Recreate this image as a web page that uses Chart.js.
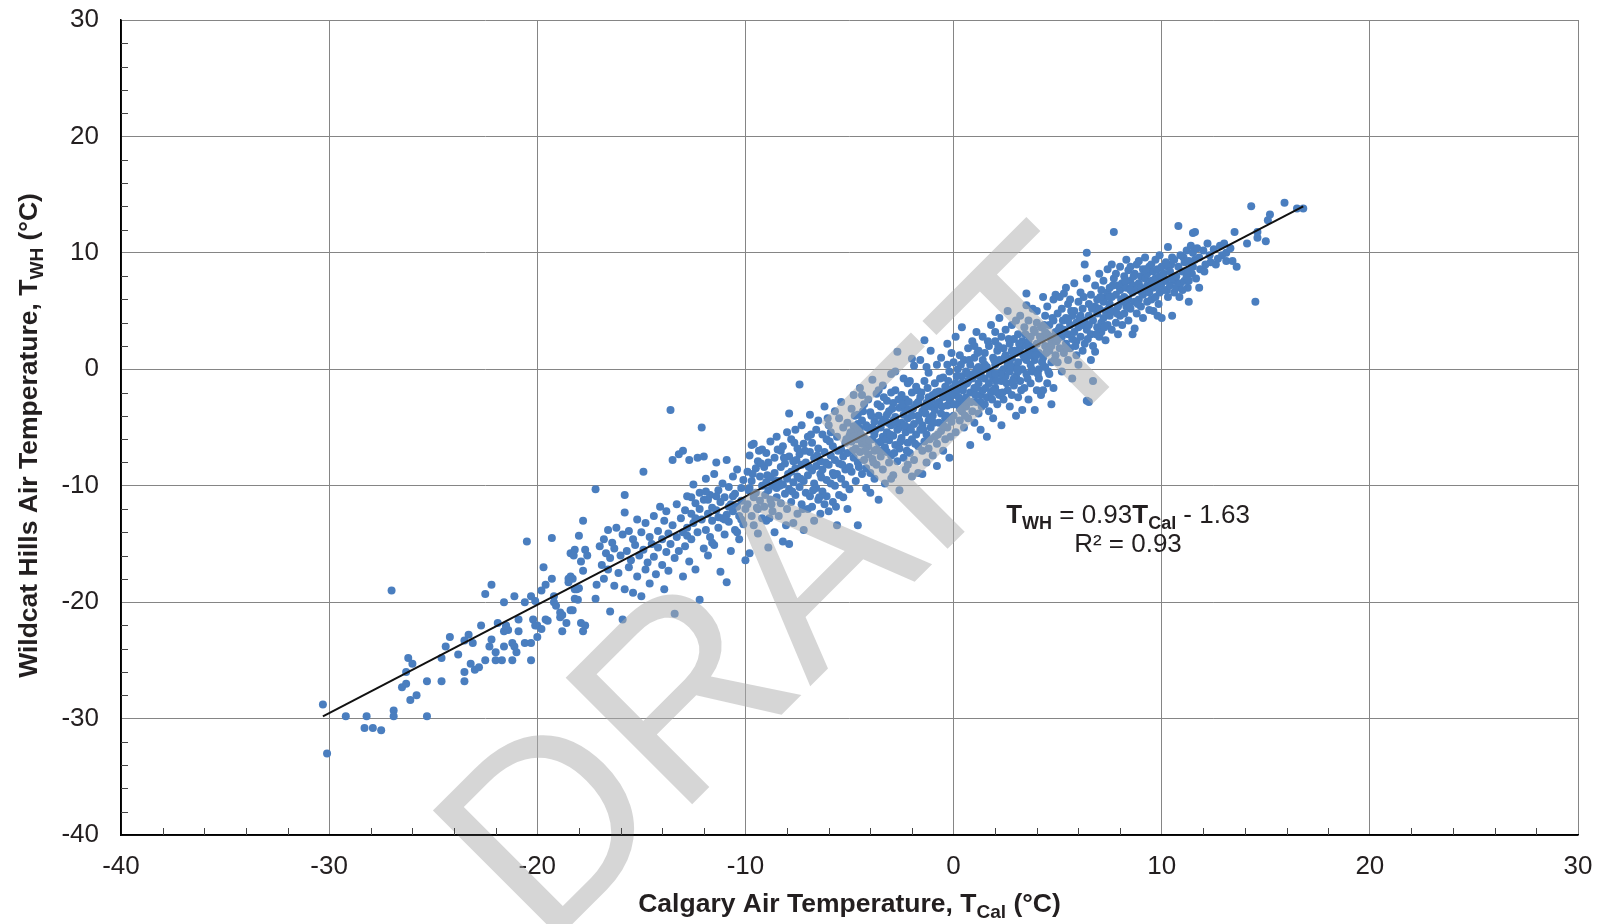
<!DOCTYPE html>
<html><head><meta charset="utf-8">
<script src="https://cdn.jsdelivr.net/npm/chart.js@4.4.1/dist/chart.umd.min.js"></script>
<style>html,body{margin:0;padding:0;background:#fff;overflow:hidden}</style>
</head><body>
<canvas id="c" width="1604" height="924"></canvas>
<script>
// ---- data ----
const xTickValues = [-40,-30,-20,-10,0,10,20,30];
const yTickValues = [-40,-30,-20,-10,0,10,20,30];
const xTitle = ['Calgary Air Temperature, T','Cal',' (°C)'];
const yTitle = ['Wildcat Hills Air Temperature, T','WH',' (°C)'];
const fitSlope = 0.93;
const fitIntercept = -1.63;
const fitRange = [-30.3, 16.8];
const rSquared = '0.93';
// [Calgary T, Wildcat Hills T]
const tempPairs = [
[-30.3,-28.8],[-30.1,-33.0],[-29.2,-29.8],[-28.2,-29.8],[-28.3,-30.8],[-27.9,-30.8],[-27.5,-31.0],[-27.0,-19.0],[-26.9,-29.3],[-26.9,-29.8],[-26.5,-27.3],[-26.3,-27.0],[-26.3,-26.0],[-26.2,-24.8],[-26.0,-25.3],[-26.1,-28.4],[-25.8,-28.0],[-25.3,-29.8],[-25.3,-26.8],
[-24.6,-26.8],[-24.6,-24.8],[-24.4,-23.8],[-24.2,-23.0],[-23.8,-24.5],[-23.5,-26.0],[-23.5,-26.8],[-23.5,-23.3],[-23.3,-22.8],[-23.1,-23.5],[-23.2,-25.3],[-23.0,-25.8],[-22.8,-25.6],[-22.7,-22.0],[-22.5,-25.0],[-22.5,-19.3],[-22.2,-18.5],[-22.3,-23.8],[-22.2,-23.2],[-22.0,-24.3],[-21.9,-21.8],[-22.0,-25.0],
[-21.7,-25.0],[-21.6,-23.8],[-21.6,-22.5],[-21.5,-22.2],[-21.4,-22.4],[-21.6,-20.0],[-21.5,-22.0],[-21.1,-19.5],[-21.2,-23.5],[-21.1,-23.8],[-21.0,-24.3],[-21.2,-25.0],[-20.9,-21.5],[-20.9,-22.5],[-20.6,-23.5],[-20.3,-23.5],[-20.3,-25.0],[-20.6,-20.0],[-20.5,-14.8],[-20.3,-19.5],[-20.1,-19.9],[-20.2,-21.5],[-20.1,-22.0],[-20.0,-22.0],[-20.0,-23.0],[-19.8,-22.3],[-19.8,-19.0],[-19.7,-17.0],[-19.6,-18.5],[-19.3,-18.0],[-19.3,-14.5],[-19.2,-19.5],[-19.2,-20.0],[-19.1,-20.3],[-19.6,-21.5],[-19.5,-21.6],[-18.9,-20.9],[-18.9,-21.3],[-18.8,-21.1],[-18.8,-22.5],[-18.6,-21.8],[-18.5,-18.0],[-18.4,-17.8],[-18.3,-18.0],[-18.5,-18.3],[-18.4,-20.7],[-18.3,-20.7],[-18.4,-15.8],[-18.2,-15.5],[-18.25,-16.0],[-18.0,-14.3],[-17.8,-13.0],[-18.2,-18.9],[-18.1,-18.9],[-18.0,-18.8],[-18.2,-19.7],[-18.05,-19.8],[-17.9,-21.8],[-17.8,-22.5],[-17.7,-22.0],[-17.9,-16.5],[-17.8,-17.3],[-17.6,-16.0],[-17.7,-15.5],[-17.2,-10.3],[-17.2,-19.7],[-17.15,-18.5],
[-17.0,-15.2],[-16.9,-16.8],[-16.8,-14.6],[-16.8,-18.0],[-16.7,-15.8],[-16.6,-13.8],[-16.6,-17.2],[-16.5,-20.8],[-16.5,-16.2],[-16.4,-14.9],[-16.3,-18.6],[-16.3,-15.4],[-16.2,-13.6],[-16.1,-17.5],[-16.0,-16.0],[-15.9,-21.5],[-15.9,-14.2],[-15.8,-10.8],[-15.8,-12.3],[-15.8,-18.9],[-15.7,-15.6],[-15.6,-13.9],[-15.6,-17.0],[-15.5,-16.4],[-15.4,-14.6],[-15.4,-19.2],[-15.3,-15.1],[-15.2,-12.9],[-15.2,-17.8],[-15.1,-16.0],[-15.0,-19.5],[-15.0,-14.0],[-14.9,-8.8],[-14.9,-15.5],[-14.8,-17.2],[-14.8,-13.2],[-14.7,-16.6],[-14.6,-14.4],[-14.6,-18.4],[-14.5,-15.0],[-14.4,-12.6],[-14.4,-16.1],[-14.3,-17.6],[-14.2,-13.9],[-14.2,-15.3],[-14.1,-11.8],[-14.0,-16.8],[-14.0,-14.6],[-13.9,-18.9],[-13.9,-13.0],[-13.8,-15.7],[-13.8,-12.2],[-13.7,-14.1],[-13.7,-17.3],[-13.6,-3.5],[-13.6,-15.0],[-13.5,-7.8],[-13.5,-13.4],[-13.4,-21.0],[-13.4,-16.2],[-13.3,-11.6],[-13.3,-14.4],[-13.2,-7.3],[-13.2,-15.6],[-13.1,-12.8],[-13.0,-7.0],[-13.0,-17.8],[-13.0,-14.0],
[-12.9,-12.1],[-12.9,-15.2],[-12.8,-10.9],[-12.8,-13.6],[-12.7,-7.8],[-12.7,-16.5],[-12.6,-12.4],[-12.6,-14.6],[-12.5,-9.9],[-12.5,-13.2],[-12.4,-11.5],[-12.4,-17.2],[-12.3,-7.6],[-12.3,-14.0],[-12.2,-19.8],[-12.2,-10.6],[-12.1,-5.0],[-12.1,-12.9],[-12.0,-7.5],[-12.0,-15.4],[-12.0,-11.2],[-11.9,-13.8],[-11.9,-9.4],[-11.8,-12.4],[-11.8,-16.0],[-11.7,-10.8],[-11.7,-14.4],[-11.6,-11.9],[-11.6,-13.0],[-11.5,-9.0],[-11.5,-15.1],[-11.4,-8.0],[-11.4,-12.1],[-11.3,-13.6],[-11.3,-10.4],[-11.2,-11.4],[-11.2,-17.4],[-11.1,-12.8],[-11.1,-9.8],[-11.0,-14.2],[-11.0,-11.0],[-10.9,-7.8],[-10.9,-18.3],[-10.9,-12.5],[-10.8,-10.1],[-10.8,-13.1],[-10.7,-11.6],[-10.7,-15.6],[-10.6,-9.2],[-10.6,-12.2],[-10.5,-13.8],[-10.5,-10.7],[-10.4,-11.8],[-10.4,-8.6],[-10.3,-14.6],[-10.3,-12.6],[-10.2,-10.2],[-10.2,-11.3],[-10.1,-13.3],[-10.1,-9.5],[-10.0,-12.0],[-10.0,-16.4],[-12.6,-11.0],[-12.2,-12.0],[-11.9,-10.5],[-11.6,-14.9],[-11.3,-12.7],[-11.0,-12.9],[-10.8,-11.8],[-10.6,-10.9],[-10.4,-14.0],[-10.2,-12.9],[-12.8,-14.3],[-12.4,-12.8],[-11.8,-11.2],[-11.4,-10.9],
[-9.9,-8.8],[-9.9,-11.6],[-9.8,-15.8],[-9.8,-10.2],[-9.8,-7.4],[-9.7,-6.5],[-9.7,-12.6],[-9.7,-9.6],[-9.6,-6.4],[-9.6,-11.0],[-9.6,-13.4],[-9.5,-8.5],[-9.5,-10.6],[-9.4,-12.0],[-9.4,-7.9],[-9.4,-14.1],[-9.3,-9.2],[-9.3,-11.3],[-9.2,-6.9],[-9.2,-10.0],[-9.2,-12.8],[-9.1,-8.4],[-9.1,-11.8],[-9.0,-9.7],[-9.0,-7.2],[-9.0,-13.0],[-8.9,-15.3],[-8.9,-10.4],[-8.9,-8.0],[-8.8,-11.2],[-8.8,-6.2],[-8.8,-9.3],[-8.7,-12.2],[-8.7,-10.0],[-8.6,-7.6],[-8.6,-14.0],[-8.6,-8.9],[-8.5,-11.0],[-8.5,-5.8],[-8.5,-10.2],[-8.4,-9.6],[-8.4,-12.6],[-8.3,-7.0],[-8.3,-8.4],[-8.3,-11.5],[-8.2,-14.8],[-8.2,-9.9],[-8.2,-6.6],[-8.1,-10.7],[-8.1,-8.1],[-8.0,-12.0],[-8.0,-9.4],[-8.0,-5.4],[-7.9,-3.8],[-7.9,-15.0],[-7.9,-10.3],[-7.9,-7.5],[-7.8,-8.8],[-7.8,-11.4],[-7.8,-6.0],[-7.7,-9.7],[-7.7,-13.2],[-7.7,-7.9],[-7.6,-10.8],[-7.6,-5.2],[-7.6,-8.5],[-7.5,-12.4],[-7.5,-9.2],[-7.5,-6.8],[-7.4,-1.3],[-7.4,-10.1],[-7.4,-7.3],[-7.3,-11.6],[-7.3,-8.2],[-7.3,-4.8],[-7.2,-9.6],[-7.2,-13.8],[-7.2,-6.4],[-7.1,-10.6],[-7.1,-8.0],[-7.0,-12.0],[-7.0,-5.8],[-7.0,-9.1],[-6.9,-7.1],[-6.9,-10.9],[-6.9,-3.9],[-6.8,-8.7],[-6.8,-11.8],[-6.8,-6.3],[-6.7,-9.8],[-6.7,-7.6],[-6.7,-13.0],[-6.6,-5.2],[-6.6,-10.2],[-6.6,-8.3],[-6.5,-11.2],[-6.5,-6.8],[-6.5,-4.4],[-6.4,-9.0],[-6.4,-12.4],[-6.4,-7.9],[-6.3,-10.5],[-6.3,-5.6],[-6.3,-8.6],[-6.2,-11.6],[-6.2,-7.1],[-6.2,-3.2],[-6.1,-9.5],[-6.1,-6.0],[-6.1,-10.9],[-6.0,-8.2],[-6.0,-4.8],[-6.0,-12.2],[-5.9,-7.4],[-5.9,-9.8],[-5.9,-5.4],[-5.8,-8.9],[-5.8,-11.4],[-5.8,-6.6],[-5.7,-3.6],[-5.7,-10.0],[-5.7,-7.8],[-5.6,-9.0],[-5.6,-5.8],[-5.6,-13.4],[-5.5,-8.1],[-5.5,-4.2],[-5.5,-10.8],[-5.4,-6.9],[-5.4,-9.4],[-5.4,-2.8],[-5.3,-7.5],[-5.3,-11.0],[-5.3,-5.0],[-5.2,-8.6],[-5.2,-6.3],[-5.2,-9.9],[-5.1,-4.6],[-5.1,-7.2],[-5.1,-12.0],[-5.0,-8.4],[-5.0,-5.7],[-5.0,-10.3],
[-9.85,-10.4],[-9.65,-9.0],[-9.45,-11.9],[-9.25,-8.1],[-9.05,-10.8],[-8.95,-9.1],[-8.75,-11.6],[-8.55,-9.6],[-8.35,-10.0],[-8.15,-7.6],[-7.95,-9.0],[-7.75,-10.5],[-7.55,-7.8],[-7.35,-9.4],[-7.15,-7.0],[-6.95,-8.4],[-6.75,-10.4],[-6.55,-7.4],[-6.35,-9.3],[-6.15,-8.0],[-5.95,-6.2],[-5.75,-9.1],[-5.55,-7.0],[-5.35,-8.2],[-5.15,-6.0],[-8.85,-12.8],[-8.05,-13.4],[-7.25,-12.0],[-6.45,-11.0],[-5.65,-11.8],[-9.35,-7.0],[-8.45,-6.9],[-7.65,-6.3],[-6.85,-5.6],[-6.05,-4.2],
[-4.9,-6.2],[-4.9,-3.4],[-4.9,-8.8],[-4.8,-4.9],[-4.8,-7.6],[-4.8,-2.2],[-4.7,-5.5],[-4.7,-9.6],[-4.7,-6.8],[-4.6,-3.9],[-4.6,-8.0],[-4.6,-13.4],[-4.5,-5.1],[-4.5,-7.1],[-4.5,-1.6],[-4.4,-6.4],[-4.4,-9.0],[-4.4,-4.4],[-4.3,-7.8],[-4.3,-3.0],[-4.3,-5.9],[-4.2,-8.5],[-4.2,-4.8],[-4.2,-10.2],[-4.1,-6.6],[-4.1,-2.6],[-4.1,-7.3],[-4.0,-5.2],[-4.0,-8.9],[-4.0,-3.7],[-3.9,-6.0],[-3.9,-0.9],[-3.9,-7.7],[-3.8,-4.5],[-3.8,-9.4],[-3.8,-5.6],[-3.7,-6.9],[-3.7,-2.1],[-3.7,-8.2],[-3.6,-4.0],[-3.6,-6.3],[-3.6,-11.2],[-3.5,-5.0],[-3.5,-7.5],[-3.5,-3.2],[-3.4,-8.6],[-3.4,-5.8],[-3.4,-1.4],[-3.3,-6.7],[-3.3,-4.3],[-3.3,-9.8],[-3.2,-2.7],[-3.2,-7.1],[-3.2,-5.4],[-3.1,-3.6],[-3.1,-8.0],[-3.1,-6.1],[-3.0,-0.4],[-3.0,-4.8],[-3.0,-7.4],[-2.9,-5.7],[-2.9,-2.9],[-2.9,-9.1],[-2.8,-6.5],[-2.8,-4.1],[-2.8,-1.8],[-2.7,1.5],[-2.7,-7.9],[-2.7,-5.2],[-2.6,-3.3],[-2.6,-6.8],[-2.6,-10.4],[-2.5,-4.6],[-2.5,-2.2],[-2.5,-5.9],[-2.4,-7.6],[-2.4,-3.9],[-2.4,-0.8],[-2.3,-5.4],[-2.3,-8.6],[-2.3,-2.6],[-2.2,-6.3],[-2.2,-4.2],[-2.2,-1.2],[-2.1,-7.2],[-2.1,-3.5],[-2.1,-5.0],[-2.0,-9.2],[-2.0,-2.0],[-2.0,-6.0],[-1.9,0.3],[-1.9,-4.7],[-1.9,-7.8],[-1.8,-3.0],[-1.8,-5.6],[-1.8,-1.5],[-1.7,-6.6],[-1.7,-4.0],[-1.7,-8.9],[-1.6,-2.4],[-1.6,-5.2],[-1.6,0.8],[-1.5,-7.0],[-1.5,-3.6],[-1.5,-4.8],[-1.4,2.5],[-1.4,-6.2],[-1.4,-1.0],[-1.3,-5.6],[-1.3,-2.9],[-1.3,-8.0],[-1.2,-4.4],[-1.2,-0.3],[-1.2,-6.8],[-1.1,-3.2],[-1.1,-5.0],[-1.1,1.6],[-1.0,-7.4],[-1.0,-2.2],[-1.0,-4.0],[-0.9,-5.8],[-0.9,-1.2],[-0.9,-3.5],[-0.8,-8.3],[-0.8,-6.4],[-0.8,0.4],[-0.7,-2.8],[-0.7,-4.6],[-0.7,-1.9],[-0.6,-5.3],[-0.6,-3.8],[-0.6,1.0],[-0.5,-7.0],[-0.5,-2.4],[-0.5,-0.7],[-0.4,-4.2],[-0.4,-6.0],[-0.4,-1.5],[-0.3,-3.1],[-0.3,2.2],[-0.3,-5.0],[-0.2,-2.0],[-0.2,-7.6],[-0.2,-0.2],[-0.1,-4.5],[-0.1,-3.0],[-0.1,1.4],[-4.6,-4.7],[-4.2,-6.2],[-3.8,-7.0],[-3.5,-6.2],[-3.2,-3.9],[-2.9,-4.4],[-2.6,-5.0],[-2.3,-3.4],[-2.0,-4.0],[-1.7,-2.8],[-1.4,-3.4],[-1.1,-4.2],[-0.8,-3.0],[-0.5,-4.8],[-0.2,-2.6],[-4.4,-2.2],[-3.6,-1.8],[-2.8,-0.2],[-2.0,0.9],[-1.3,0.2],[-4.0,-10.6],[-3.0,-9.4],[-2.2,-8.2],[-1.5,-9.0],
[-4.95,-5.4],[-4.85,-7.0],[-4.75,-4.0],[-4.65,-6.0],[-4.55,-8.4],[-4.45,-5.6],[-4.35,-3.6],[-4.25,-7.0],[-4.15,-5.0],[-4.05,-6.1],[-3.95,-4.0],[-3.85,-8.0],[-3.75,-5.2],[-3.65,-3.0],[-3.55,-7.0],[-3.45,-4.6],[-3.35,-2.4],[-3.25,-6.0],[-3.15,-4.6],[-3.05,-5.6],[-2.95,-3.4],[-2.85,-7.2],[-2.75,-4.6],[-2.65,-2.6],[-2.55,-6.2],[-2.45,-3.0],[-2.35,-4.8],[-2.25,-7.0],[-2.15,-2.8],[-2.05,-5.2],[-1.95,-3.4],[-1.85,-6.4],[-1.75,-1.8],[-1.65,-4.4],[-1.55,-2.0],[-1.45,-5.2],[-1.35,-3.8],[-1.25,-1.6],[-1.15,-6.0],[-1.05,-2.6],[-0.95,-4.6],[-0.85,-2.0],[-0.75,-5.6],[-0.65,-0.8],[-0.55,-3.2],[-0.45,-2.0],[-0.35,-4.0],[-0.25,-1.0],[-0.15,-5.8],[-0.05,-1.6],[-4.8,-5.8],[-3.9,-5.0],[-3.0,-2.0],[-2.1,-1.0],[-1.2,-2.4],[-0.3,0.4],
[0.0,-2.2],[0.0,0.6],[0.0,-4.0],[0.1,-1.2],[0.1,2.8],[0.1,-5.4],[0.2,-3.0],[0.2,0.0],[0.2,-1.8],[0.3,-4.4],[0.3,1.2],[0.3,-2.6],[0.4,-0.6],[0.4,-3.6],[0.4,3.6],[0.5,-1.4],[0.5,-5.0],[0.5,0.8],[0.6,-2.4],[0.6,-0.2],[0.6,-3.2],[0.7,1.8],[0.7,-4.2],[0.7,-1.0],[0.8,-6.5],[0.8,-2.0],[0.8,0.4],[0.9,-3.6],[0.9,2.4],[0.9,-0.8],[1.0,-1.6],[1.0,-4.6],[1.0,1.0],[1.1,-2.8],[1.1,0.0],[1.1,3.2],[1.2,-1.2],[1.2,-3.8],[1.2,1.6],[1.3,-0.4],[1.3,-2.2],[1.3,-5.2],[1.4,0.8],[1.4,-1.8],[1.4,2.8],[1.5,-3.0],[1.5,-0.8],[1.5,1.4],[1.6,-5.8],[1.6,-2.4],[1.6,0.2],[1.7,-1.2],[1.7,2.0],[1.7,-3.6],[1.8,-0.2],[1.8,3.8],[1.8,-2.0],[1.9,1.0],[1.9,-4.2],[1.9,-0.8],[2.0,2.4],[2.0,-1.6],[2.0,0.4],[2.1,-3.0],[2.1,1.6],[2.1,-0.4],[2.2,4.4],[2.2,-2.2],[2.2,0.8],[2.3,-1.0],[2.3,2.8],[2.3,-4.8],[2.4,0.0],[2.4,1.8],[2.4,-2.6],[2.5,-0.6],[2.5,3.4],[2.5,1.2],[2.6,-1.8],[2.6,0.4],[2.6,5.0],[2.7,-3.2],[2.7,2.2],[2.7,-0.2],[2.8,1.0],[2.8,-2.2],[2.8,3.8],[2.9,0.2],[2.9,-1.4],[2.9,2.6],[3.0,-4.0],[3.0,1.4],[3.0,-0.6],[3.1,3.0],[3.1,-2.4],[3.1,0.6],[3.2,4.6],[3.2,-1.0],[3.2,1.8],[3.3,-3.5],[3.3,0.0],[3.3,2.4],[3.4,-1.6],[3.4,3.6],[3.4,1.0],[3.5,5.5],[3.5,6.5],[3.5,-0.4],[3.5,2.0],[3.6,-2.6],[3.6,1.4],[3.6,4.2],[3.7,0.4],[3.7,-1.2],[3.7,2.8],[3.8,5.2],[3.8,-0.2],[3.8,1.8],[3.9,-3.5],[3.9,3.2],[3.9,0.8],[4.0,-1.8],[4.0,2.2],[4.0,4.0],[4.1,0.0],[4.1,1.4],[4.1,-0.8],[4.2,3.6],[4.2,2.6],[4.2,-2.2],[4.3,-1.8],[4.3,6.2],[4.3,1.0],[4.4,4.6],[4.4,0.2],[4.4,2.0],[4.5,-1.2],[4.5,3.0],[4.5,5.4],[4.6,1.6],[4.6,-0.4],[4.6,3.8],[4.7,-3.0],[4.7,2.4],[4.7,0.6],[4.8,6.0],[4.8,4.2],[4.8,-1.6],[4.9,1.2],[4.9,3.2],[4.9,6.4],[0.3,-3.4],[0.7,-0.4],[1.1,-1.6],[1.5,0.4],[1.9,-1.8],[2.3,-0.2],[2.7,0.6],[3.1,-0.2],[3.5,0.8],[3.9,1.6],[4.3,2.8],[4.7,2.0],[0.5,-2.8],[1.3,-2.8],[2.1,-2.0],[2.9,-0.8],[3.7,1.2],[4.5,1.6],[1.0,2.0],[2.0,3.2],[3.0,4.2],[4.0,5.0],
[0.05,-3.0],[0.15,-0.6],[0.25,-2.4],[0.35,0.4],[0.45,-1.8],[0.55,-4.0],[0.65,-1.2],[0.75,0.8],[0.85,-2.8],[0.95,-0.4],[1.05,-2.2],[1.15,1.4],[1.25,-0.6],[1.35,-3.2],[1.45,0.2],[1.55,-1.6],[1.65,2.4],[1.75,-0.4],[1.85,-2.6],[1.95,0.8],[2.05,-1.0],[2.15,2.0],[2.25,-0.4],[2.35,-2.0],[2.45,1.0],[2.55,-1.2],[2.65,2.6],[2.75,0.2],[2.85,-1.0],[2.95,1.6],[3.05,0.0],[3.15,2.2],[3.25,-1.8],[3.35,1.2],[3.45,3.0],[3.55,-0.8],[3.65,2.0],[3.75,0.0],[3.85,3.4],[3.95,1.2],[4.05,-0.4],[4.15,2.8],[4.25,0.6],[4.35,3.8],[4.45,1.4],[4.55,-0.2],[4.65,2.8],[4.75,4.4],[4.85,0.8],[4.95,2.4],[0.4,-1.2],[1.2,0.2],[2.0,-0.4],[2.8,1.6],[3.6,2.4],[4.4,3.2],
[5.0,2.6],[5.0,4.8],[5.0,0.6],[5.1,3.6],[5.1,6.2],[5.1,1.8],[5.2,2.8],[5.2,5.2],[5.2,-0.2],[5.3,6.5],[5.3,3.4],[5.3,1.4],[5.4,4.4],[5.4,2.2],[5.4,7.0],[5.5,3.0],[5.5,0.8],[5.5,5.6],[5.6,3.8],[5.6,1.8],[5.6,6.0],[5.7,2.6],[5.7,4.6],[5.7,-0.8],[5.8,3.2],[5.8,7.4],[5.8,5.0],[5.9,1.2],[5.9,4.0],[5.9,2.4],[6.0,5.8],[6.0,3.6],[6.0,0.4],[6.1,4.6],[6.1,2.8],[6.1,6.6],[6.2,3.8],[6.2,1.6],[6.2,5.2],[6.3,9.0],[6.3,4.2],[6.3,2.2],[6.4,10.0],[6.4,7.8],[6.4,-2.7],[6.4,3.4],[6.5,-2.8],[6.5,5.6],[6.5,4.6],[6.6,0.8],[6.6,3.0],[6.6,6.4],[6.7,-1.0],[6.7,4.2],[6.7,2.0],[6.8,1.5],[6.8,5.4],[6.8,7.2],[6.9,3.6],[6.9,6.0],[6.9,4.8],[7.0,2.8],[7.0,8.2],[7.0,5.2],[7.1,4.0],[7.1,6.8],[7.1,3.2],[7.2,5.8],[7.2,4.4],[7.2,7.6],[7.3,2.5],[7.3,6.2],[7.3,5.0],[7.4,3.8],[7.4,8.6],[7.4,6.6],[7.5,4.6],[7.5,5.6],[7.5,7.0],[7.6,9.0],[7.6,3.4],[7.6,6.2],[7.7,11.8],[7.7,5.0],[7.7,7.8],[7.8,4.0],[7.8,6.4],[7.8,8.2],[7.9,5.4],[7.9,7.2],[7.9,3.0],[8.0,6.8],[8.0,4.6],[8.0,8.8],[8.1,5.8],[8.1,7.4],[8.1,3.8],[8.2,6.2],[8.2,8.0],[8.2,4.8],[8.3,7.0],[8.3,5.4],[8.3,9.4],[8.4,8.5],[8.4,6.0],[8.4,4.2],[8.5,7.6],[8.5,5.2],[8.5,8.8],[8.6,6.6],[8.6,3.0],[8.6,7.2],[8.7,3.5],[8.7,8.2],[8.7,5.8],[8.8,6.8],[8.8,9.0],[8.8,4.8],[8.9,9.3],[8.9,7.4],[8.9,6.0],[9.0,8.0],[9.0,5.4],[9.0,7.0],[9.1,8.6],[9.1,6.4],[9.1,4.4],[9.2,7.8],[9.2,6.8],[9.2,9.6],[9.3,5.8],[9.3,8.2],[9.3,7.2],[9.4,5.1],[9.4,8.8],[9.4,6.6],[9.5,7.6],[9.5,9.0],[9.5,6.0],[9.6,8.4],[9.6,5.0],[9.6,7.0],[9.7,9.4],[9.7,7.8],[9.7,6.2],[9.8,8.6],[9.8,4.6],[9.8,7.2],[9.9,8.0],[9.9,6.6],[9.9,9.8],[10.0,4.4],[10.0,7.4],[10.0,8.8],
[5.05,3.4],[5.25,4.2],[5.45,1.8],[5.65,5.0],[5.85,2.0],[6.05,4.4],[6.25,6.2],[6.45,2.6],[6.65,5.2],[6.85,3.0],[7.05,6.2],[7.25,3.6],[7.45,5.2],[7.65,7.2],[7.85,4.8],[8.05,6.0],[8.25,7.6],[8.45,5.4],[8.65,8.0],[8.85,5.6],[9.05,6.6],[9.25,8.6],[9.45,7.0],[9.65,7.6],[9.85,5.6],[10.05,8.0],[10.25,6.8],[10.45,9.0],[10.65,7.6],[10.85,6.2],[11.05,9.6],[11.25,7.0],[11.45,8.2],[11.65,7.8],[11.85,8.6],[12.05,8.4],[12.35,9.2],[12.9,9.8],[5.5,4.2],[6.5,3.8],[7.5,6.2],[8.5,6.8],[9.5,7.2],
[10.1,6.8],[10.1,8.2],[10.2,7.6],[10.2,9.2],[10.3,10.5],[10.3,8.8],[10.3,6.2],[10.4,7.2],[10.4,8.4],[10.5,4.6],[10.5,7.8],[10.5,9.6],[10.6,9.4],[10.6,6.6],[10.7,8.0],[10.7,7.0],[10.8,12.3],[10.8,8.8],[10.9,7.4],[10.9,9.8],[11.0,6.8],[11.0,8.4],[11.1,7.6],[11.1,9.2],[11.2,10.2],[11.2,8.0],[11.3,5.8],[11.3,7.6],[11.3,8.5],[11.3,9.3],[11.4,10.6],[11.5,11.7],[11.5,10.0],[11.5,8.8],[11.6,11.8],[11.6,9.4],[11.7,10.4],[11.8,7.0],[11.8,9.6],[12.0,10.2],[12.1,9.0],[12.2,10.8],[12.3,9.8],[12.5,10.3],[12.6,9.0],[12.7,9.5],[12.8,10.6],[13.0,10.8],[13.1,9.3],[13.1,10.0],[13.3,10.4],[13.4,9.3],[13.5,11.8],[13.6,8.8],[14.1,10.8],[14.3,14.0],[14.5,5.8],[14.6,11.8],[14.6,11.3],[15.0,11.0],[15.1,12.8],[15.2,13.3],[15.9,14.3],[16.5,13.8],[16.8,13.8]
];

// ---- drawing ----
const FONT = '"Liberation Sans", Arial, Helvetica, sans-serif';
const scatterPoints = tempPairs.map(p => ({x: p[0], y: p[1]}));
const fitLine = fitRange.map(x => ({x: x, y: fitSlope * x + fitIntercept}));

function drawParts(ctx, parts, cx, baseY) {
  let total = 0;
  parts.forEach(p => { ctx.font = p.f; p.w = ctx.measureText(p.t).width; total += p.w; });
  let x = cx - total / 2;
  ctx.textAlign = 'left'; ctx.textBaseline = 'alphabetic';
  parts.forEach(p => { ctx.font = p.f; ctx.fillText(p.t, x, baseY + (p.dy || 0)); x += p.w; });
}

const decorPlugin = {
  id: 'decor',
  afterDatasetsDraw(chart) {
    const ctx = chart.ctx;
    // watermark (over the points)
    ctx.save();
    ctx.translate(800, 595);
    ctx.rotate(-45 * Math.PI / 180);
    ctx.font = '260px ' + FONT;
    ctx.fillStyle = 'rgba(174,174,174,0.5)';
    ctx.textAlign = 'center'; ctx.textBaseline = 'middle';
    ctx.fillText('DRAFT', 0, 0);
    ctx.restore();
  },
  afterDraw(chart) {
    const ctx = chart.ctx;
    const xs = chart.scales.x, ys = chart.scales.y;
    const ca = chart.chartArea;
    ctx.save();
    // axis lines
    ctx.strokeStyle = '#000'; ctx.lineWidth = 1.5;
    ctx.beginPath();
    ctx.moveTo(ca.left, ca.top); ctx.lineTo(ca.left, ca.bottom); ctx.lineTo(ca.right, ca.bottom);
    ctx.stroke();
    // minor ticks (inside)
    ctx.strokeStyle = '#444'; ctx.lineWidth = 1;
    ctx.beginPath();
    for (let v = -38; v < 30; v += 2) {
      if (v % 10 === 0) continue;
      const px = Math.round(xs.getPixelForValue(v)) + 0.5;
      ctx.moveTo(px, ca.bottom); ctx.lineTo(px, ca.bottom - 7);
      const py = Math.round(ys.getPixelForValue(v)) + 0.5;
      ctx.moveTo(ca.left, py); ctx.lineTo(ca.left + 7, py);
    }
    ctx.stroke();
    // axis titles
    ctx.fillStyle = '#231f20';
    const B = 'bold 26.5px ' + FONT, BS = 'bold 19px ' + FONT;
    drawParts(ctx, [{t: xTitle[0], f: B}, {t: xTitle[1], f: BS, dy: 6}, {t: xTitle[2], f: B}], (ca.left + ca.right) / 2, 912);
    ctx.save();
    ctx.translate(37, (ca.top + ca.bottom) / 2 + 8);
    ctx.rotate(-Math.PI / 2);
    drawParts(ctx, [{t: yTitle[0], f: B}, {t: yTitle[1], f: BS, dy: 6}, {t: yTitle[2], f: B}], 0, 0);
    ctx.restore();
    // equation
    const R = '26px ' + FONT, RB = 'bold 26px ' + FONT, SB = 'bold 18px ' + FONT;
    drawParts(ctx, [{t: 'T', f: RB}, {t: 'WH', f: SB, dy: 6}, {t: ' = ' + fitSlope.toFixed(2), f: R},
      {t: 'T', f: RB}, {t: 'Cal', f: SB, dy: 6}, {t: ' - ' + Math.abs(fitIntercept).toFixed(2), f: R}], 1128, 523);
    drawParts(ctx, [{t: 'R² = ' + rSquared, f: R}], 1128, 552);
    ctx.restore();
  }
};

new Chart(document.getElementById('c'), {
  type: 'scatter',
  data: {
    datasets: [
      {type: 'line', data: fitLine, borderColor: '#111', borderWidth: 2, pointRadius: 0, fill: false, tension: 0},
      {data: scatterPoints, backgroundColor: '#4A7EBF', borderWidth: 0, pointRadius: 4, pointHoverRadius: 4}
    ]
  },
  options: {
    responsive: false, animation: false, devicePixelRatio: 1,
    layout: {padding: {top: 20, right: 26, left: 0, bottom: 0}},
    plugins: {legend: {display: false}, tooltip: {enabled: false}},
    scales: {
      x: {
        type: 'linear', min: -40, max: 30,
        afterBuildTicks(s) { s.ticks = xTickValues.map(v => ({value: v})); },
        ticks: {color: '#231f20', font: {family: FONT, size: 26}, padding: 16, maxRotation: 0},
        grid: {color: '#858585', lineWidth: 1, drawTicks: false},
        border: {color: '#000', width: 1.5},
        afterFit(s) { s.height = 89; s.paddingLeft = 0; s.paddingRight = 0; }
      },
      y: {
        type: 'linear', min: -40, max: 30,
        afterBuildTicks(s) { s.ticks = yTickValues.map(v => ({value: v})); },
        ticks: {color: '#231f20', font: {family: FONT, size: 26}, padding: 22},
        grid: {color: '#858585', lineWidth: 1, drawTicks: false},
        border: {color: '#000', width: 1.5},
        afterFit(s) { s.width = 121; s.paddingTop = 0; s.paddingBottom = 0; }
      }
    }
  },
  plugins: [decorPlugin]
});
</script>
</body></html>
